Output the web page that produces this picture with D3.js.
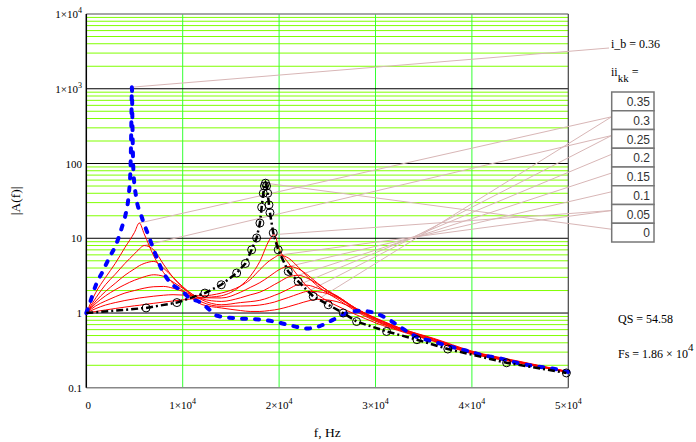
<!DOCTYPE html>
<html>
<head>
<meta charset="utf-8">
<script src="https://cdn.jsdelivr.net/npm/d3@7"></script>
<style>
  body { margin: 0; background: #fff; }
  svg text { font-family: "Liberation Serif", "Times New Roman", serif; fill: #000; }
</style>
</head>
<body>
<svg id="chart" width="696" height="442"></svg>
<script>
// values
const xTicks = [0, 1e4, 2e4, 3e4, 4e4, 5e4];
const yTicks = [0.1, 1, 10, 100, 1e3, 1e4];

const iiKK = [0.35, 0.3, 0.25, 0.2, 0.15, 0.1, 0.05, 0];
const iB = 0.36;
const QS = 54.58;
const Fs = 1.86e4;

// blue dashed curve
const blueF = [0, 311, 1006, 1700, 2385, 3080, 3775, 4117, 4400, 4580, 4680, 4730, 4780, 4880, 5180, 5672, 6533, 7052, 7923, 8960,
  9997, 10650, 11790, 12800, 13450, 15520, 17290, 18740, 20080, 21430, 22880, 24230, 25580, 27040, 28380, 29730, 31490, 32530, 34270, 35960,
  37720, 39450, 41140, 42900, 44630, 46320, 48090, 50000];
const blueA = [1.0, 1.29, 2.39, 3.6, 5.5, 8.2, 15.2, 22, 38, 83, 380, 1050, 380, 83, 35, 20.7, 10.2, 6.7, 3.6, 2.39,
  1.95, 1.6, 1.4, 1.1, 0.93, 0.85, 0.83, 0.80, 0.74, 0.67, 0.62, 0.67, 0.81, 1.0, 1.07, 1.02, 0.8, 0.655, 0.48, 0.417,
  0.357, 0.313, 0.272, 0.248, 0.216, 0.197, 0.183, 0.163];

// black dash-dot curve with circle markers
const blackF = [0, 6200, 9400, 12300, 14000, 15600, 16500, 17150, 17670, 18010, 18190, 18360, 18480, 18590, 18700, 18820, 18950, 19050,
  19390, 19910, 20950, 21980, 23540, 25100, 26650, 28040, 31150, 34300, 37500, 43600, 49800];
const blackA = [1.0, 1.17, 1.38, 1.85, 2.39, 3.43, 4.6, 7.0, 10.1, 16.0, 26, 40, 50, 54.6, 50, 40, 28, 22,
  11.8, 7.0, 3.6, 2.65, 1.67, 1.29, 1.0, 0.77, 0.567, 0.44, 0.33, 0.216, 0.158];

// red family, shared frequency grid
const redF = [0, 1000, 2000, 3000, 4000, 5000, 5500, 6000, 7000, 8000, 9000, 10000, 12000, 14000, 16000, 17000, 18000,
  19000, 19500, 20000, 21000, 22000, 23000, 24000, 25000, 26000, 28000, 30000, 33000, 36000, 40000, 45000, 50000];
const red1 = [1, 1.9, 3.0, 4.6, 7.5, 12, 16, 11.5, 5.8, 3.5, 2.5, 2.0, 1.3, 1.17, 1.08, 1.05, 1.05,
  1.08, 1.1, 1.13, 1.22, 1.33, 1.45, 1.52, 1.5, 1.42, 1.12, 0.86, 0.6, 0.46, 0.31, 0.225, 0.165];
const red2 = [1, 1.6, 2.4, 3.3, 4.6, 6.2, 7.2, 8.0, 7.0, 4.5, 3.0, 2.2, 1.4, 1.23, 1.24, 1.25, 1.28,
  1.35, 1.4, 1.47, 1.62, 1.8, 1.95, 1.93, 1.82, 1.62, 1.15, 0.85, 0.6, 0.45, 0.305, 0.222, 0.164];
const red3 = [1, 1.45, 1.95, 2.5, 3.2, 3.9, 4.3, 4.6, 4.9, 4.0, 3.0, 2.25, 1.5, 1.29, 1.38, 1.42, 1.48,
  1.62, 1.72, 1.82, 2.1, 2.38, 2.35, 2.15, 1.92, 1.68, 1.15, 0.84, 0.59, 0.45, 0.3, 0.22, 0.163];
const red4 = [1, 1.35, 1.7, 2.05, 2.4, 2.75, 2.9, 3.05, 3.25, 3.1, 2.6, 2.15, 1.55, 1.43, 1.6, 1.75, 1.9,
  2.2, 2.4, 2.6, 3.05, 3.2, 2.9, 2.45, 2.0, 1.7, 1.13, 0.82, 0.58, 0.44, 0.3, 0.22, 0.163];
const red5 = [1, 1.25, 1.45, 1.65, 1.85, 2.0, 2.08, 2.15, 2.25, 2.27, 2.15, 1.95, 1.6, 1.59, 1.9, 2.2, 2.55,
  3.1, 3.45, 3.8, 4.2, 3.9, 3.2, 2.5, 2.0, 1.65, 1.1, 0.8, 0.57, 0.43, 0.295, 0.218, 0.162];
const red6 = [1, 1.15, 1.28, 1.38, 1.47, 1.55, 1.59, 1.62, 1.68, 1.73, 1.76, 1.74, 1.7, 1.85, 2.3, 2.8, 3.8,
  5.0, 5.5, 5.95, 5.4, 4.1, 3.0, 2.3, 1.85, 1.55, 1.05, 0.78, 0.56, 0.425, 0.29, 0.216, 0.161];
const red7 = [1, 1.05, 1.1, 1.15, 1.2, 1.25, 1.27, 1.3, 1.35, 1.4, 1.45, 1.5, 1.6, 1.7, 2.3, 3.1, 4.9,
  9.5, 11.2, 7.3, 4.6, 3.1, 2.2, 1.75, 1.45, 1.25, 0.95, 0.74, 0.55, 0.42, 0.285, 0.214, 0.16];
const redCurves = [red1, red2, red3, red4, red5, red6, red7];

// pink leader lines: [curve, which peak, table row]
const leaders = [[0, "low", 1], [0, "high", 1], [1, "low", 2], [1, "high", 2], [2, "high", 3],
  [3, "high", 4], [4, "high", 5], [5, "high", 6], [6, "high", 6], ["black", "high", 7]];

const svg = d3.select("#chart");
const x = d3.scaleLinear().domain([0, 5e4]).range([86.3, 568.3]);
const y = d3.scaleLog().domain([0.1, 1e4]).range([387.8, 14]);
const x0 = x(0), x1 = x(5e4);

// grid
const minor = [];
for (let n = -1; n <= 3; n++) for (let k = 2; k <= 9; k++) minor.push(k * Math.pow(10, n));
svg.append("g").selectAll("line").data(minor).join("line")
  .attr("x1", x0).attr("x2", x1).attr("y1", d => y(d)).attr("y2", d => y(d))
  .attr("stroke", "#80ff00").attr("stroke-width", 1);
svg.append("g").selectAll("line").data(xTicks.slice(1, -1)).join("line")
  .attr("x1", d => x(d)).attr("x2", d => x(d)).attr("y1", y(1e4)).attr("y2", y(0.1))
  .attr("stroke", "#33ff33").attr("stroke-width", 1);
svg.append("g").selectAll("line").data(yTicks.slice(1, -1)).join("line")
  .attr("x1", x0).attr("x2", x1).attr("y1", d => y(d)).attr("y2", d => y(d))
  .attr("stroke", "#000").attr("stroke-width", 1);

// frame
svg.append("line").attr("x1", x0).attr("x2", x1).attr("y1", y(1e4)).attr("y2", y(1e4)).attr("stroke", "#888").attr("stroke-width", 1.5);
svg.append("line").attr("x1", x0).attr("x2", x1).attr("y1", y(0.1)).attr("y2", y(0.1)).attr("stroke", "#888").attr("stroke-width", 1.5);
svg.append("line").attr("x1", x1).attr("x2", x1).attr("y1", y(1e4)).attr("y2", y(0.1)).attr("stroke", "#444").attr("stroke-width", 1.2);
svg.append("line").attr("x1", x0).attr("x2", x0).attr("y1", y(1e4)).attr("y2", y(0.1)).attr("stroke", "#000").attr("stroke-width", 1.5);

// table geometry (right side)
const tabX = 611.7, tabW = 42.3, tabY = 92, rowH = 18.75;

// leader lines
function peakOf(F, A, part) {
  let best = -1, bi = 0;
  A.forEach((a, i) => {
    const ok = part === "low" ? F[i] < 12000 : F[i] >= 12000;
    if (ok && a > best) { best = a; bi = i; }
  });
  return [F[bi], A[bi]];
}
const pink = "#d8b6b6";
const leadG = svg.append("g");
leaders.forEach(([c, part, row]) => {
  const p = c === "black" ? peakOf(blackF, blackA, part) : peakOf(redF, redCurves[c], part);
  leadG.append("line")
    .attr("x1", x(p[0])).attr("y1", y(p[1]))
    .attr("x2", tabX).attr("y2", tabY + row * rowH + 6)
    .attr("stroke", pink).attr("stroke-width", 1);
});
const bp = peakOf(blueF, blueA, "low");
leadG.append("line").attr("x1", x(bp[0])).attr("y1", y(bp[1]))
  .attr("x2", 609).attr("y2", 48).attr("stroke", pink).attr("stroke-width", 1);

// curves
const smooth = d3.line().x(d => x(d[0])).y(d => y(d[1])).curve(d3.curveMonotoneX);
const straight = d3.line().x(d => x(d[0])).y(d => y(d[1]));

svg.append("g").selectAll("path").data(redCurves).join("path")
  .attr("d", A => smooth(redF.map((f, i) => [f, A[i]])))
  .attr("fill", "none").attr("stroke", "#ff0000").attr("stroke-width", 1);

svg.append("path")
  .attr("d", smooth(blueF.map((f, i) => [f, blueA[i]])))
  .attr("fill", "none").attr("stroke", "#0000ff").attr("stroke-width", 4)
  .attr("stroke-linecap", "round").attr("stroke-dasharray", "4,9");

const blackPts = blackF.map((f, i) => [f, blackA[i]]);
svg.append("path")
  .attr("d", straight(blackPts))
  .attr("fill", "none").attr("stroke", "#000").attr("stroke-width", 2.5)
  .attr("stroke-dasharray", "7,3,2,3");
svg.append("g").selectAll("circle").data(blackPts.slice(1)).join("circle")
  .attr("cx", d => x(d[0])).attr("cy", d => y(d[1])).attr("r", 4)
  .attr("fill", "none").attr("stroke", "#000").attr("stroke-width", 1);

// tick labels
function sciLabel(sel, v) {
  if (v >= 1000) {
    const e = Math.floor(Math.log10(v) + 1e-9);
    const m = Math.round(v / Math.pow(10, e));
    sel.append("tspan").text(m + "×10");
    sel.append("tspan").attr("dy", -5).attr("font-size", 8).text(e);
  } else {
    sel.text(String(v));
  }
}
svg.append("g").selectAll("text").data(yTicks).join("text")
  .attr("x", 82).attr("y", d => y(d) + 4).attr("text-anchor", "end").attr("font-size", 11)
  .each(function (d) { sciLabel(d3.select(this), d); });
svg.append("g").selectAll("text").data(xTicks).join("text")
  .attr("x", d => x(d) + (d ? 0 : 2)).attr("y", 409).attr("text-anchor", "middle").attr("font-size", 11)
  .each(function (d) { sciLabel(d3.select(this), d); });

svg.append("text").attr("x", (x0 + x1) / 2).attr("y", 437).attr("text-anchor", "middle")
  .attr("font-size", 13.5).text("f, Hz");
svg.append("text").attr("transform", `translate(20,${(y(1e4) + y(0.1)) / 2}) rotate(-90)`)
  .attr("text-anchor", "middle").attr("font-size", 13.5).text("|A(f)|");

// right-side annotations
svg.append("text").attr("x", 611).attr("y", 48).attr("font-size", 12).text("i_b = " + iB);
const iiT = svg.append("text").attr("x", 611).attr("y", 76).attr("font-size", 12);
iiT.append("tspan").text("ii");
iiT.append("tspan").attr("dy", 6).attr("font-size", 11).text("kk");
iiT.append("tspan").attr("dy", -6).text(" =");

const tab = svg.append("g");
tab.selectAll("rect").data(iiKK).join("rect")
  .attr("x", tabX).attr("y", (d, i) => tabY + i * rowH).attr("width", tabW).attr("height", rowH)
  .attr("fill", "#fff").attr("stroke", "#777").attr("stroke-width", 1.5);
tab.selectAll("text").data(iiKK).join("text")
  .attr("x", tabX + tabW - 4).attr("y", (d, i) => tabY + i * rowH + 14)
  .attr("text-anchor", "end").attr("font-size", 12)
  .style("font-family", "'Liberation Sans', Arial, sans-serif").style("fill", "#333")
  .text(d => String(d));

svg.append("text").attr("x", 618).attr("y", 323).attr("font-size", 12).text("QS = " + QS);
const fsT = svg.append("text").attr("x", 618).attr("y", 358).attr("font-size", 12);
fsT.append("tspan").text("Fs = " + (Fs / 1e4).toFixed(2) + " × 10");
fsT.append("tspan").attr("dy", -7).attr("font-size", 11).text("4");
</script>
</body>
</html>
